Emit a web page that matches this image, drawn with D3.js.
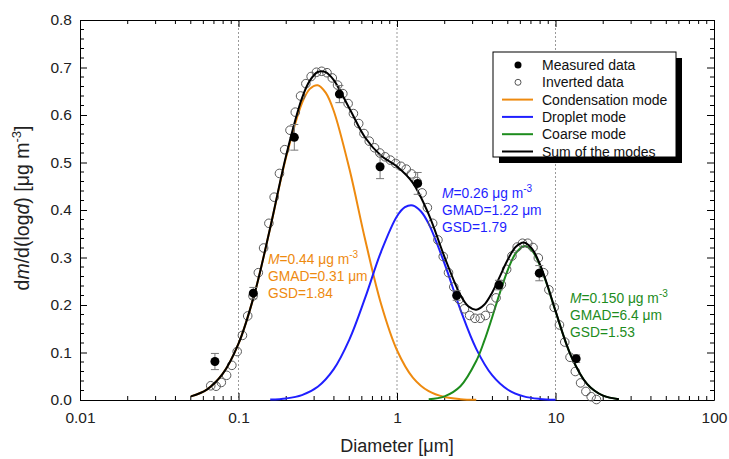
<!DOCTYPE html>
<html><head><meta charset="utf-8">
<script src="https://cdn.jsdelivr.net/npm/d3@7"></script>
<style>body{margin:0;background:#fff}svg{display:block}text{font-family:"Liberation Sans",Arial,sans-serif}</style>
</head><body><svg id="c" width="729" height="459"></svg>
<script>
// ---- data ----
const xTicks = [0.01, 0.1, 1, 10, 100];
const xTickLabels = ["0.01", "0.1", "1", "10", "100"];
const yTicks = [0, 0.1, 0.2, 0.3, 0.4, 0.5, 0.6, 0.7, 0.8];
const yTickLabels = ["0.0", "0.1", "0.2", "0.3", "0.4", "0.5", "0.6", "0.7", "0.8"];

const measD = [0.071, 0.124, 0.225, 0.433, 0.782, 1.35, 2.38, 4.4, 7.9, 13.5];
const measV = [0.081, 0.225, 0.553, 0.644, 0.491, 0.456, 0.220, 0.242, 0.267, 0.087];
const measErr = [0.017, 0.012, 0.027, 0.018, 0.025, 0.023, 0.010, 0.010, 0.016, 0.008];

const invD = [0.0668,0.0722,0.0779,0.0841,0.0908,0.0981,0.1059,0.1143,0.1235,0.1334,0.1440,0.1555,0.1679,0.1813,0.1957,0.2113,0.2282,0.2464,0.2661,0.2873,0.3102,0.3350,0.3617,0.3906,0.4217,0.4554,0.4917,0.5309,0.5733,0.6190,0.6683,0.7217,0.7792,0.8414,0.9085,0.9810,1.0593,1.1438,1.2350,1.3335,1.4399,1.5548,1.6788,1.8127,1.9573,2.1135,2.2820,2.4641,2.6607,2.8728,3.1019,3.3497,3.6166,3.9051,4.2170,4.5531,4.9163,5.3088,5.7321,6.1893,6.6834,7.2161,7.7917,8.4140,9.0847,9.8099,10.593,11.438,12.350,13.335,14.399,15.548,16.788,18.127];
const invV = [0.030,0.029,0.037,0.052,0.073,0.102,0.136,0.177,0.219,0.268,0.320,0.372,0.427,0.477,0.527,0.568,0.606,0.640,0.666,0.681,0.690,0.692,0.689,0.678,0.663,0.645,0.624,0.603,0.582,0.561,0.545,0.531,0.520,0.512,0.505,0.498,0.492,0.486,0.476,0.460,0.436,0.405,0.372,0.337,0.302,0.268,0.238,0.212,0.192,0.178,0.172,0.172,0.178,0.193,0.215,0.243,0.275,0.303,0.322,0.330,0.330,0.321,0.299,0.268,0.232,0.195,0.158,0.122,0.090,0.060,0.036,0.018,0.007,0.001];

const condD = [0.0501,0.0631,0.0794,0.1,0.1259,0.1585,0.1995,0.2512,0.2818,0.3162,0.3548,0.3981,0.5012,0.631,0.7943,1,1.259,1.585,1.995,2.512,3.162];
const condV = [0.0076,0.0219,0.0548,0.1185,0.2224,0.3619,0.5106,0.6247,0.6550,0.6627,0.6470,0.6095,0.4861,0.3362,0.2016,0.1048,0.0473,0.0185,0.0063,0.0018,0.0005];

const dropD = [0.1585,0.1995,0.2512,0.3162,0.3981,0.5012,0.631,0.7943,1,1.122,1.259,1.413,1.585,1.995,2.512,3.162,3.981,5.012,6.31,7.943,10];
const dropV = [0.0009,0.0033,0.0103,0.0279,0.0645,0.1277,0.2160,0.3126,0.3869,0.4060,0.4096,0.3974,0.3708,0.2871,0.1902,0.1077,0.0522,0.0216,0.0077,0.0023,0.0006];

const coarseD = [1.585,1.995,2.512,3.162,3.548,3.981,4.467,5.012,5.623,6.31,7.079,7.943,8.913,10,12.59,15.85,19.95,25.12];
const coarseV = [0.0015,0.0076,0.0289,0.0820,0.1238,0.1738,0.2266,0.2746,0.3094,0.3239,0.3150,0.2848,0.2393,0.1869,0.0914,0.0334,0.0091,0.0018];

const sumD = [0.0501,0.0631,0.0794,0.1,0.1259,0.1585,0.1995,0.2512,0.2818,0.3162,0.3548,0.3981,0.5012,0.631,0.7943,1,1.259,1.585,1.995,2.512,2.818,3.162,3.548,3.981,4.467,5.012,5.623,6.31,7.079,7.943,8.913,10,12.59,15.85,19.95,25.12];
const sumV = [0.0076,0.0219,0.0548,0.1185,0.2224,0.3628,0.5139,0.6350,0.6723,0.6906,0.6903,0.6740,0.6138,0.5522,0.5142,0.4917,0.4571,0.3908,0.3010,0.2209,0.1972,0.1902,0.2005,0.2260,0.2608,0.2962,0.3225,0.3316,0.3193,0.2871,0.2406,0.1875,0.0914,0.0334,0.0091,0.0018];

const legendLabels = ["Measured data", "Inverted data", "Condensation mode", "Droplet mode", "Coarse mode", "Sum of the modes"];
const modeColors = {cond: "#ee8a0f", drop: "#1f1fff", coarse: "#1d8c1d", sum: "#000"};
const annCond = ["0.44", "0.31", "1.84"];
const annDrop = ["0.26", "1.22", "1.79"];
const annCoarse = ["0.150", "6.4", "1.53"];

// ---- chart ----
const svg = d3.select("#c");
const L = 80, R = 714, T = 20, B = 400;
const x = d3.scaleLog().domain([0.01, 100]).range([L, R]);
const y = d3.scaleLinear().domain([0, 0.8]).range([B, T]);

// gridlines
svg.append("g").selectAll("line").data([0.1, 1, 10]).join("line")
  .attr("x1", d => x(d)).attr("x2", d => x(d)).attr("y1", T).attr("y2", B)
  .attr("stroke", "#999").attr("stroke-width", 1).attr("stroke-dasharray", "2,2");

// minor ticks
const minorX = [];
for (let e = -2; e < 2; e++) for (let k = 2; k <= 9; k++) minorX.push(k * Math.pow(10, e));
const minorY = d3.range(0, 0.801, 0.02).filter(v => Math.abs(v * 10 - Math.round(v * 10)) > 1e-6);

const axB = d3.axisBottom(x).tickValues(xTicks).tickFormat((d, i) => xTickLabels[i]).tickSizeInner(-7).tickSizeOuter(0).tickPadding(12);
const gB = svg.append("g").attr("transform", `translate(0,${B})`).call(axB);
gB.append("g").selectAll("line").data(minorX).join("line")
  .attr("x1", d => x(d)).attr("x2", d => x(d)).attr("y1", 0).attr("y2", -4).attr("stroke", "#000");
const gT = svg.append("g").attr("transform", `translate(0,${T})`).call(d3.axisTop(x).tickValues(xTicks).tickFormat("").tickSizeInner(-7).tickSizeOuter(0));
gT.append("g").selectAll("line").data(minorX).join("line")
  .attr("x1", d => x(d)).attr("x2", d => x(d)).attr("y1", 0).attr("y2", 4).attr("stroke", "#000");

const axL = d3.axisLeft(y).tickValues(yTicks).tickFormat((d, i) => yTickLabels[i]).tickSizeInner(-7).tickSizeOuter(0).tickPadding(8);
const gL = svg.append("g").attr("transform", `translate(${L},0)`).call(axL);
gL.append("g").selectAll("line").data(minorY).join("line")
  .attr("y1", d => y(d)).attr("y2", d => y(d)).attr("x1", 0).attr("x2", 4).attr("stroke", "#000");
const gR = svg.append("g").attr("transform", `translate(${R},0)`).call(d3.axisRight(y).tickValues(yTicks).tickFormat("").tickSizeInner(-7).tickSizeOuter(0));
gR.append("g").selectAll("line").data(minorY).join("line")
  .attr("y1", d => y(d)).attr("y2", d => y(d)).attr("x1", 0).attr("x2", -4).attr("stroke", "#000");
svg.selectAll(".domain").attr("stroke", "#000");
gB.selectAll("text").attr("font-size", 15.5).attr("fill", "#222").attr("font-family", "Liberation Sans, Arial, sans-serif");
gL.selectAll("text").attr("font-size", 15.5).attr("fill", "#222").attr("font-family", "Liberation Sans, Arial, sans-serif");

// axis titles
const xt = svg.append("text").attr("x", (L + R) / 2).attr("y", 452).attr("text-anchor", "middle").attr("font-size", 18).attr("fill", "#222");
xt.append("tspan").text("Diameter [μm]");
const yt = svg.append("text").attr("transform", `translate(29,208) rotate(-90)`).attr("text-anchor", "middle").attr("font-size", 19.5).attr("fill", "#222");
yt.append("tspan").text("d");
yt.append("tspan").attr("font-style", "italic").text("m");
yt.append("tspan").text("/d(log");
yt.append("tspan").attr("font-style", "italic").text("d");
yt.append("tspan").text(") [μg m");
yt.append("tspan").attr("font-size", 13).attr("dy", -8).text("-3");
yt.append("tspan").attr("dy", 8).text("]");

// curves
const line = d3.line().x(d => x(d[0])).y(d => y(d[1])).curve(d3.curveCatmullRom.alpha(0.5));
const curves = [
  [condD, condV, modeColors.cond],
  [dropD, dropV, modeColors.drop],
  [coarseD, coarseV, modeColors.coarse],
];
curves.forEach(([D, V, c]) => {
  svg.append("path").datum(D.map((d, i) => [d, V[i]])).attr("d", line)
    .attr("fill", "none").attr("stroke", c).attr("stroke-width", 2);
});

// inverted data
svg.append("g").selectAll("circle").data(invD.map((d, i) => [d, invV[i]])).join("circle")
  .attr("cx", d => x(d[0])).attr("cy", d => y(d[1])).attr("r", 4.3)
  .attr("fill", "none").attr("stroke", "#5a5a5a").attr("stroke-width", 1);

// sum
svg.append("path").datum(sumD.map((d, i) => [d, sumV[i]])).attr("d", line)
  .attr("fill", "none").attr("stroke", "#000").attr("stroke-width", 2);

// measured with error bars
const gm = svg.append("g");
measD.forEach((d, i) => {
  const cx = x(d), y0 = y(measV[i] - measErr[i]), y1 = y(measV[i] + measErr[i]);
  gm.append("line").attr("x1", cx).attr("x2", cx).attr("y1", y0).attr("y2", y1).attr("stroke", "#777");
  gm.append("line").attr("x1", cx - 4).attr("x2", cx + 4).attr("y1", y0).attr("y2", y0).attr("stroke", "#777");
  gm.append("line").attr("x1", cx - 4).attr("x2", cx + 4).attr("y1", y1).attr("y2", y1).attr("stroke", "#777");
});
gm.selectAll("circle").data(measD.map((d, i) => [d, measV[i]])).join("circle")
  .attr("cx", d => x(d[0])).attr("cy", d => y(d[1])).attr("r", 4.5).attr("fill", "#000");

// annotations
function annot(px, py, vals, color) {
  const g = svg.append("g").attr("fill", color).attr("font-size", 13.8);
  const t1 = g.append("text").attr("x", px).attr("y", py);
  t1.append("tspan").attr("font-style", "italic").text("M");
  t1.append("tspan").text("=" + vals[0] + " μg m");
  t1.append("tspan").attr("font-size", 10).attr("dy", -6).text("-3");
  g.append("text").attr("x", px).attr("y", py + 17).text("GMAD=" + vals[1] + " μm");
  g.append("text").attr("x", px).attr("y", py + 34).text("GSD=" + vals[2]);
}
annot(268, 264, annCond, modeColors.cond);
annot(442, 198, annDrop, modeColors.drop);
annot(570, 303, annCoarse, modeColors.coarse);

// legend
const lx = 493, ly = 52, lw = 183, lh = 105;
svg.append("rect").attr("x", lx + 6).attr("y", ly + 6).attr("width", lw).attr("height", lh).attr("fill", "#000");
svg.append("rect").attr("x", lx).attr("y", ly).attr("width", lw).attr("height", lh).attr("fill", "#fff").attr("stroke", "#000");
const lg = svg.append("g");
legendLabels.forEach((lab, i) => {
  const cy = ly + 13 + i * 17.3;
  if (i === 0) lg.append("circle").attr("cx", 518).attr("cy", cy).attr("r", 3.5).attr("fill", "#000");
  else if (i === 1) lg.append("circle").attr("cx", 518).attr("cy", cy).attr("r", 3).attr("fill", "none").attr("stroke", "#555");
  else {
    const c = [modeColors.cond, modeColors.drop, modeColors.coarse, modeColors.sum][i - 2];
    lg.append("line").attr("x1", 502).attr("x2", 533).attr("y1", cy).attr("y2", cy).attr("stroke", c).attr("stroke-width", 2);
  }
  lg.append("text").attr("x", 542).attr("y", cy + 5).attr("font-size", 14).attr("fill", "#111").text(lab);
});
</script></body></html>
